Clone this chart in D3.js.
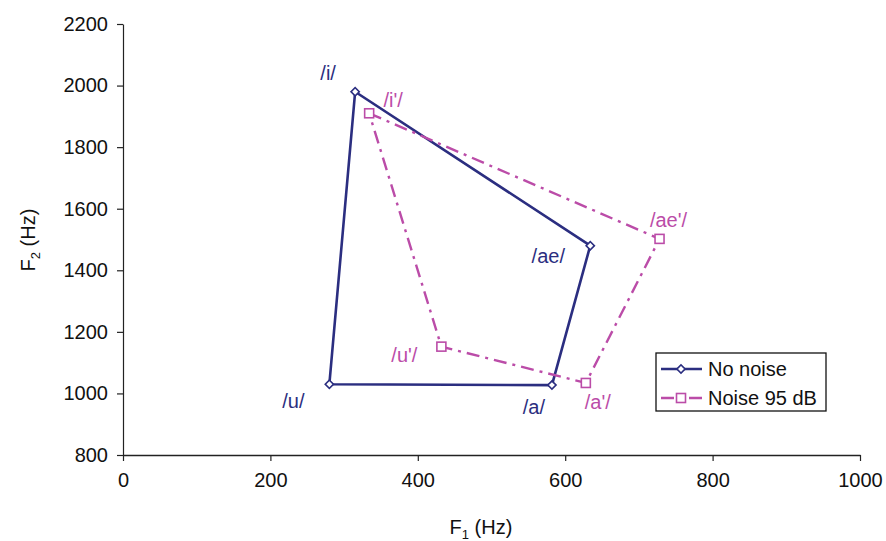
<!DOCTYPE html>
<html><head><meta charset="utf-8">
<script src="https://cdn.jsdelivr.net/npm/d3@7"></script>
<style>body{margin:0;background:#fff;} text{font-family:"Liberation Sans",Arial,sans-serif;}</style>
</head><body>
<svg id="c" width="886" height="541"></svg>
<script>
const vowels = ["/i/", "/ae/", "/a/", "/u/"];
const noNoiseF1 = [315, 634, 582, 280];
const noNoiseF2 = [1980, 1480, 1027, 1030];
const noiseLabels = ["/i'/", "/ae'/", "/a'/", "/u'/"];
const noiseF1 = [334, 728, 628, 432];
const noiseF2 = [1910, 1502, 1034, 1152];
const xTicks = [0, 200, 400, 600, 800, 1000];
const yTicks = [800, 1000, 1200, 1400, 1600, 1800, 2000, 2200];
const seriesNames = ["No noise", "Noise 95 dB"];
// label offsets (px) relative to point
const labelOff1 = [[-27, -12], [-42, 17], [-18, 29], [-36, 24]];
const labelOff2 = [[24, -6], [9, -12], [12, 26], [-37, 15]];

const navy = "#2b2e80", mag = "#bb4ca8";
const svg = d3.select("#c");
const x = d3.scaleLinear().domain([0, 1000]).range([123, 860]);
const y = d3.scaleLinear().domain([800, 2200]).range([455, 24]);

const fs = 20;
const gx = svg.append("g").attr("transform", "translate(0,455)")
  .call(d3.axisBottom(x).tickValues(xTicks).tickFormat(d3.format("d")).tickSize(6).tickPadding(12).tickSizeOuter(0));
const gy = svg.append("g").attr("transform", "translate(123,0)")
  .call(d3.axisLeft(y).tickValues(yTicks).tickFormat(d3.format("d")).tickSize(6).tickPadding(9).tickSizeOuter(0));
[gx, gy].forEach(g => {
  g.selectAll("text").attr("font-size", fs).attr("fill", "#111").attr("font-family", "Liberation Sans, Arial, sans-serif");
  g.selectAll("line,path").attr("stroke", "#222").attr("stroke-width", 1.2);
});
gx.select(".domain").attr("stroke-width", 1.5);

// axis titles
const xt = svg.append("text").attr("x", 481).attr("y", 534).attr("text-anchor", "middle").attr("font-size", fs).attr("fill", "#111");
xt.append("tspan").text("F");
xt.append("tspan").attr("font-size", 13).attr("dy", 5).text("1");
xt.append("tspan").attr("dy", -5).text(" (Hz)");
const yt = svg.append("text").attr("transform", "translate(35,240) rotate(-90)").attr("text-anchor", "middle").attr("font-size", fs).attr("fill", "#111");
yt.append("tspan").text("F");
yt.append("tspan").attr("font-size", 13).attr("dy", 5).text("2");
yt.append("tspan").attr("dy", -5).text(" (Hz)");

const d1 = noNoiseF1.map((v, i) => ({x: v, y: noNoiseF2[i], label: vowels[i], off: labelOff1[i]}));
const d2 = noiseF1.map((v, i) => ({x: v, y: noiseF2[i], label: noiseLabels[i], off: labelOff2[i]}));
const line = d3.line().x(d => x(d.x)).y(d => y(d.y)).curve(d3.curveLinearClosed);

svg.append("path").attr("d", line(d1)).attr("fill", "none").attr("stroke", navy).attr("stroke-width", 2.6);
svg.append("path").attr("d", line(d2)).attr("fill", "none").attr("stroke", mag).attr("stroke-width", 2.4)
  .attr("stroke-dasharray", "13,6,3,6");

svg.selectAll(".m1").data(d1).enter().append("path")
  .attr("d", d3.symbol().type(d3.symbolSquare).size(34))
  .attr("transform", d => `translate(${x(d.x)},${y(d.y)}) rotate(45)`)
  .attr("fill", "#fff").attr("stroke", navy).attr("stroke-width", 1.6);
svg.selectAll(".m2").data(d2).enter().append("rect")
  .attr("x", d => x(d.x) - 4.5).attr("y", d => y(d.y) - 4.5).attr("width", 9).attr("height", 9)
  .attr("fill", "#fff").attr("stroke", mag).attr("stroke-width", 1.6);

svg.selectAll(".l1").data(d1).enter().append("text")
  .attr("x", d => x(d.x) + d.off[0]).attr("y", d => y(d.y) + d.off[1])
  .attr("text-anchor", "middle").attr("font-size", fs).attr("fill", navy).text(d => d.label);
svg.selectAll(".l2").data(d2).enter().append("text")
  .attr("x", d => x(d.x) + d.off[0]).attr("y", d => y(d.y) + d.off[1])
  .attr("text-anchor", "middle").attr("font-size", fs).attr("fill", mag).text(d => d.label);

// legend
const lg = svg.append("g").attr("transform", "translate(656,353)");
lg.append("rect").attr("width", 170).attr("height", 58).attr("fill", "#fff").attr("stroke", "#111").attr("stroke-width", 1.3);
const colors = [navy, mag];
seriesNames.forEach((n, i) => {
  const yy = 16 + i * 29;
  lg.append("line").attr("x1", 5).attr("x2", 46).attr("y1", yy).attr("y2", yy)
    .attr("stroke", colors[i]).attr("stroke-width", 2.4).attr("stroke-dasharray", i ? "13,6,3,6" : null);
  if (i === 0) {
    lg.append("path").attr("d", d3.symbol().type(d3.symbolSquare).size(34)).attr("transform", `translate(25,${yy}) rotate(45)`)
      .attr("fill", "#fff").attr("stroke", navy).attr("stroke-width", 1.6);
  } else {
    lg.append("rect").attr("x", 20.5).attr("y", yy - 4.5).attr("width", 9).attr("height", 9)
      .attr("fill", "#fff").attr("stroke", mag).attr("stroke-width", 1.6);
  }
  lg.append("text").attr("x", 52).attr("y", yy + 7).attr("font-size", fs).attr("fill", "#111").text(n);
});
</script>
</body></html>
